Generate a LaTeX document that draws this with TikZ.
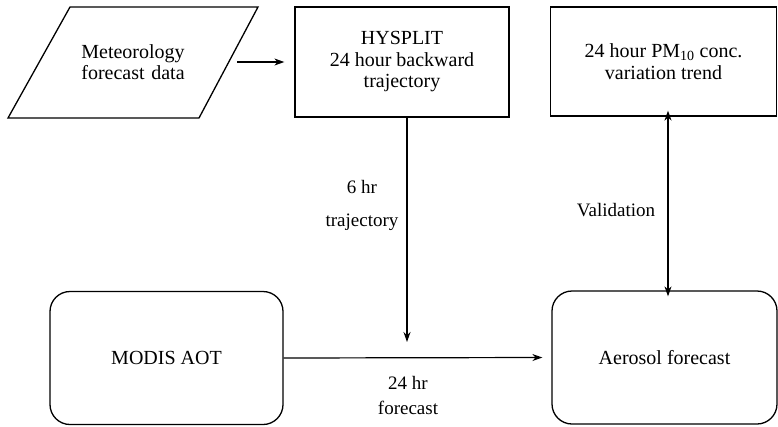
\documentclass[tikz,border=0pt]{standalone}
\usepackage{fontspec}
\setmainfont{Liberation Serif}
\usetikzlibrary{arrows.meta}
\begin{document}
\begin{tikzpicture}[x=1pt,y=-1pt,
  every node/.style={font=\fontsize{20}{21.5}\selectfont, align=center, inner sep=0pt},
  boxnode/.style={draw, line width=1.3pt, minimum width=214pt, minimum height=110pt},
  roundbox/.style={draw, line width=1.3pt, rounded corners=20pt, minimum height=133pt},
  conn/.style={line width=1.2pt, -{Stealth[length=10pt,width=7pt]}},
  dconn/.style={line width=1.2pt, {Stealth[length=10pt,width=7pt]}-{Stealth[length=10pt,width=7pt]}},
  lbl/.style={font=\fontsize{19}{33}\selectfont}]
\useasboundingbox (0,0) rectangle (778,426);
% parallelogram
\draw[line width=1.3pt] (70,7) -- (258,7) -- (199,118) -- (8,118) -- cycle;
\node[text width=140pt] (met) at (133,62) {Meteorology\\forecast data};
\node[boxnode] (hys) at (402,62) {HYSPLIT\\24 hour backward\\trajectory};
\node[boxnode, minimum width=226pt, minimum height=109pt] (pm) at (663.5,61.5) {24 hour PM\textsubscript{10} conc.\\variation trend};
\node[roundbox, minimum width=233pt] (modis) at (166.5,358) {MODIS AOT};
\node[roundbox, minimum width=225pt] (aer) at (664.5,357.5) {Aerosol forecast};
\coordinate (tip) at (407,342);
\coordinate (metE) at (237,62);
\draw[conn] (metE) -- ([xshift=-10pt]hys.west);
\draw[conn] ([xshift=5pt]hys.south) -- (tip);
\draw[conn] (modis.east) -- ([xshift=-9pt]aer.west);
\draw[dconn] ([xshift=4.5pt,yshift=6pt]pm.south) -- ([xshift=3.5pt,yshift=-6pt]aer.north);
\node[lbl] (l1) at (362,205) {6 hr\\trajectory};
\node[lbl] (l2) at (616,210) {Validation};
\node[lbl, font=\fontsize{19}{25}\selectfont] (l3) at (408,395) {24 hr\\forecast};
\end{tikzpicture}
\end{document}
